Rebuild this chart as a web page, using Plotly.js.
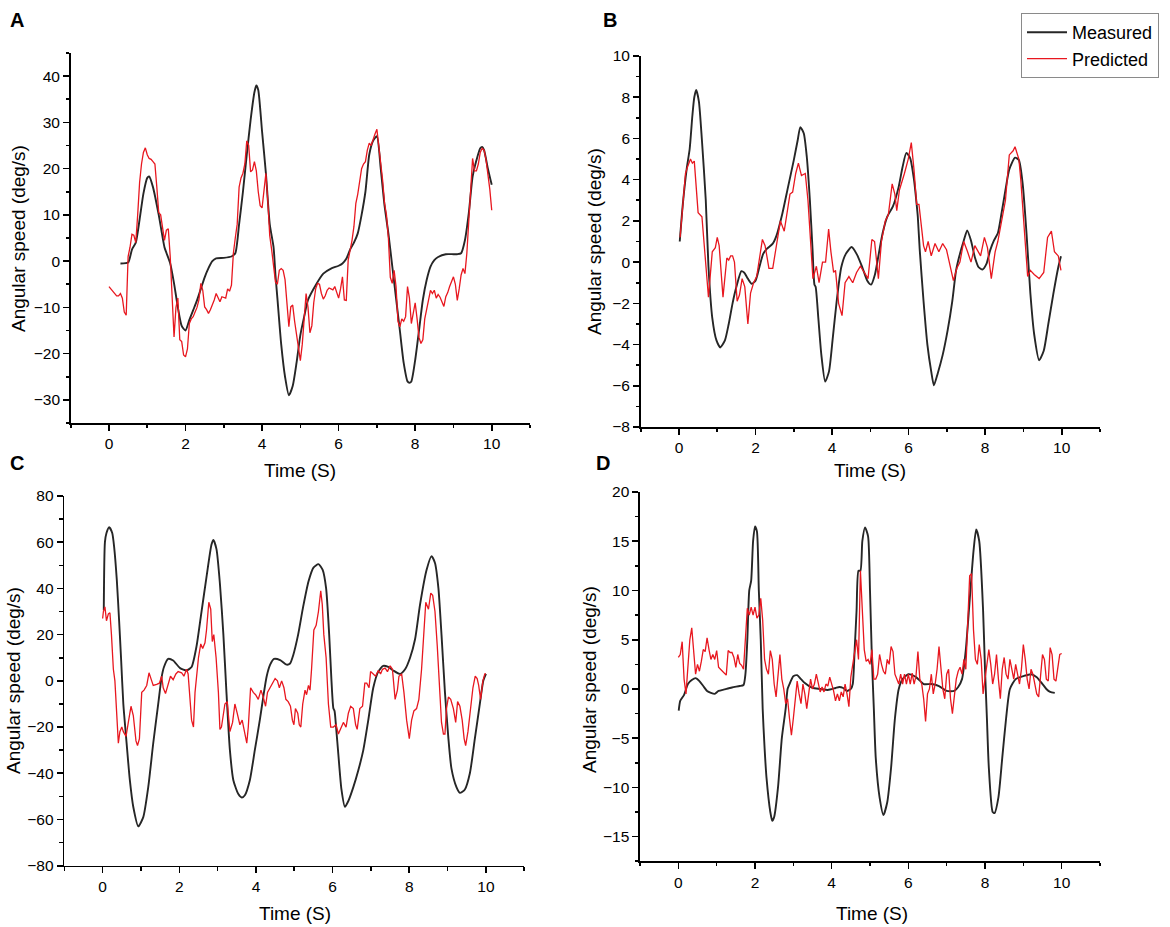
<!DOCTYPE html>
<html>
<head>
<meta charset="utf-8">
<script src="https://cdn.plot.ly/plotly-3.0.1.min.js"></script>
<style>
html,body{margin:0;padding:0;background:#fff;}
#chart{width:1170px;height:927px;}
</style>
</head>
<body>
<div id="chart"></div>
<script>
// ---------------- DATA ----------------
// Predicted series A and D are sampled every 0.05 s starting at 0 s (Plotly x0/dx).
const PRED_T0 = 0;
const PRED_DT = 0.05;

// Panel A
const tMeasA = [0.3,0.5,0.6,0.7,0.8,0.9,1.0,1.05,1.15,1.3,
  1.45,1.5,1.6,1.7,1.8,1.9,2.0,2.1,2.2,2.3,
  2.4,2.5,2.6,2.7,2.8,3.0,3.2,3.3,3.4,3.5,
  3.6,3.7,3.8,3.85,3.9,4.0,4.1,4.2,4.3,4.35,
  4.4,4.5,4.6,4.7,4.8,4.9,5.0,5.1,5.2,5.4,
  5.6,5.8,6.0,6.1,6.2,6.3,6.4,6.5,6.6,6.7,
  6.8,6.9,7.0,7.1,7.2,7.3,7.4,7.5,7.6,7.7,
  7.8,7.85,7.9,8.0,8.1,8.2,8.3,8.4,8.5,8.6,
  8.8,9.0,9.1,9.2,9.3,9.4,9.5,9.6,9.7,9.75,
  9.8,9.9,10.0];
const measA = [-0.5,-0.3,2.5,4,9,14.6,18,18.3,16,10,
  3,1.8,-0.5,-4.8,-10,-14,-15,-12.7,-10.6,-8.5,
  -6,-3.5,-1.5,0,0.6,0.7,1,1.7,8,15,
  23,30.5,36.5,38,37,28,19,8,3,-3,
  -8,-18,-25,-29,-27,-22,-16,-12,-8.4,-5.2,
  -2.7,-1.6,-1,-0.5,0.5,2.5,4,6,10,15,
  23,26,27,20,12,6,-1,-8,-15,-22,
  -26,-26.3,-26,-21.4,-15,-8.4,-4.1,-1.2,0.2,0.9,
  1.5,1.5,1.5,1.7,4.5,10.3,18.2,21.8,24.4,24.7,
  24,20,16.5];
const predA = [
  -5.5,-6,-6.5,-7,-7.5,-7.5,-7,-8,-11,-11.7,1,3,5.8,5.6,4,10,17,21,23.5,24.5,
  23,22.2,22,21.5,21,16,10.5,10,6.7,4.5,6.7,7,1,-8,-16.4,-10,-8,-17,-17.4,-20.3,
  -20.7,-19,-13.5,-12.5,-12,-11,-10,-8.4,-4.8,-6.3,-9.9,-10.5,-11.3,-10.5,-9.5,-8.4,-7,-8,-8.8,-7.7,
  -7.8,-8,-6,-6.5,-5.2,1.7,5,8,16,18,19,21,26,25,19.3,19.7,21.5,19.5,15,12,
  11.5,15,19,13,5.5,2.5,-1,-4.5,-5,-2,-1.6,-2,-4,-9,-14.2,-9.9,-9.5,-13,-16,-19.5,
  -21.5,-18,-12.7,-7,-10,-15.5,-14,-9,-6,-4.8,-5,-7,-8.2,-7.5,-6.3,-5.8,-6,-6.2,-5.5,-7,
  -8,-6,-3.4,-8.4,-8.5,0.2,2,4.5,7.5,12.5,14.5,17.5,20,21,21.5,24,25.5,25,26.5,27.5,
  28.5,25,20.5,17.5,12.5,10,5,-3.5,-4.8,-2,-5.5,-13,-14.2,-12.5,-13,-12,-5.5,-8,-13.5,-11,
  -9,-12.5,-16.5,-17.8,-17,-12.5,-10.5,-8.5,-6.3,-7,-6.3,-8,-7.2,-7.8,-9,-9.8,-7.7,-6.8,-5.5,-4.2,
  -3.4,-5,-8.5,-6,-3,-1.6,-2.7,1.7,8,16.5,22.2,19.5,19.5,21,23.5,24.4,24,22,19,15.5,
  11];

// Panel B
const tMeasB = [0.02,0.1,0.2,0.28,0.35,0.4,0.45,0.52,0.6,0.7,
  0.77,0.87,0.98,1.08,1.2,1.3,1.4,1.5,1.63,1.7,
  1.8,1.9,2.0,2.1,2.2,2.3,2.45,2.55,2.7,2.85,
  3.0,3.1,3.17,3.26,3.34,3.42,3.49,3.54,3.57,3.64,
  3.72,3.82,3.92,4.02,4.12,4.24,4.36,4.51,4.64,4.79,
  4.92,5.02,5.12,5.22,5.32,5.44,5.59,5.74,5.84,5.94,
  6.04,6.14,6.21,6.24,6.29,6.39,6.49,6.59,6.66,6.76,
  6.89,7.02,7.14,7.24,7.34,7.44,7.53,7.63,7.73,7.83,
  7.93,8.03,8.13,8.23,8.33,8.43,8.53,8.63,8.78,8.88,
  8.98,9.08,9.18,9.28,9.41,9.53,9.65,9.78,9.91,9.98];
const measB = [1.0,2.8,4.5,5.5,7.1,8.0,8.35,7.8,5.9,3,
  -0.2,-2.7,-3.8,-4.14,-3.8,-3,-2,-1.2,-0.44,-0.5,
  -0.8,-1.05,-0.9,-0.25,0.4,0.65,0.9,1.3,2.35,3.65,
  4.95,5.9,6.55,6.25,5.1,3,0.6,-1.1,-1.2,-2.7,
  -4.5,-5.8,-5.3,-3.65,-1.9,-0.25,0.4,0.73,0.4,-0.25,
  -0.9,-1.09,-0.6,0.4,1.4,2.2,2.7,3.65,4.6,5.3,
  5.05,4,2.8,2.2,0.6,-1.9,-4,-5.3,-5.98,-5.4,
  -4.5,-3.3,-1.9,-0.4,0.4,1.04,1.54,1.04,0.24,-0.25,
  -0.36,-0.1,0.57,1.05,1.4,2.4,3.5,4.5,5.07,4.95,
  3.8,1.4,-1.5,-3.5,-4.76,-4.3,-3,-1.55,-0.25,0.28];
const tPredB = [0.03,0.1,0.17,0.22,0.3,0.35,0.4,0.5,0.6,0.77,
  0.87,0.95,1.0,1.05,1.15,1.25,1.3,1.35,1.4,1.45,
  1.52,1.58,1.65,1.72,1.8,1.87,1.95,2.03,2.1,2.18,
  2.25,2.35,2.45,2.55,2.65,2.75,2.9,2.97,3.05,3.12,
  3.2,3.3,3.37,3.5,3.59,3.66,3.75,3.83,3.91,3.97,
  4.04,4.09,4.17,4.26,4.34,4.44,4.54,4.64,4.74,4.84,
  4.94,5.04,5.11,5.21,5.29,5.39,5.47,5.57,5.64,5.69,
  5.76,5.89,5.99,6.07,6.14,6.21,6.27,6.39,6.44,6.51,
  6.59,6.69,6.79,6.89,6.99,7.17,7.26,7.34,7.44,7.54,
  7.63,7.73,7.88,7.98,8.06,8.16,8.26,8.33,8.43,8.53,
  8.63,8.73,8.78,8.88,8.93,9.03,9.11,9.18,9.28,9.41,
  9.53,9.63,9.73,9.81,9.91,9.98];
const predB = [1.2,3.0,4.3,4.6,5.0,4.8,4.9,2.4,2.2,-1.7,
  0.5,0.7,1.2,0.8,-1.7,0.2,0.1,0.3,0.3,0,
  -1.9,-1.6,-0.8,-1.2,-3.0,-1.5,-1.0,-0.7,0.2,1.1,
  0.8,-0.3,-0.3,0.8,2.0,1.5,3.3,3.4,4.3,4.8,
  4.2,4.3,3.0,-0.8,-0.2,-1.0,0,0,1.6,0.5,
  -0.5,-0.4,-2.0,-2.6,-1.0,-0.7,-1.0,-0.5,-0.2,-0.5,
  -0.8,1.1,1.0,-0.8,1.0,2.0,2.3,3.8,3.3,2.5,
  3.5,4.3,5.0,5.8,4.5,2.8,2.8,0.8,0.5,1.0,
  0.3,0.9,0.5,0.9,0.6,-0.9,-0.3,0,1.0,0.5,
  0,0.8,0.3,1.2,0.7,-0.8,0.5,1.0,2.0,3.0,
  5.2,5.4,5.6,5.0,4.0,1.5,-0.7,-0.4,-0.6,-0.8,
  -0.5,1.2,1.5,0.5,0.3,-0.4];

// Panel C
const tMeasC = [0.03,0.06,0.1,0.17,0.25,0.3,0.37,0.43,0.48,0.54,
  0.61,0.71,0.8,0.93,1.06,1.19,1.32,1.45,1.54,1.6,
  1.71,1.84,2.02,2.19,2.32,2.45,2.58,2.71,2.84,2.89,
  2.97,3.06,3.15,3.23,3.32,3.41,3.54,3.63,3.71,3.84,
  3.97,4.1,4.19,4.28,4.37,4.47,4.63,4.8,4.89,4.97,
  5.1,5.23,5.37,5.5,5.63,5.74,5.83,5.91,5.97,6.02,
  6.05,6.09,6.15,6.23,6.32,6.41,6.54,6.67,6.8,6.93,
  7.06,7.19,7.32,7.45,7.58,7.76,7.89,8.02,8.15,8.28,
  8.45,8.58,8.67,8.76,8.84,8.93,9.02,9.1,9.23,9.32,
  9.45,9.58,9.71,9.84,9.93,10.0];
const measC = [30.6,60,64,66.5,64,58,43.6,26,10,-10,
  -24,-43,-54.6,-63,-59,-46,-27,-10,1.7,6,
  9.5,8.8,5.5,4.5,6,15,30,45,59,61,
  57,42,20,-5,-30,-43,-49,-50.5,-49.5,-43,
  -30,-17,-7,2,7,9.5,9,7,7.5,11,
  20,32,43,49,50.5,48,40,20,0,-12,
  -13,-20,-32,-47,-54.5,-52,-46,-38.7,-30,-17,
  -3,4,6.5,6,4.5,3,5,10,18,33,
  48,54,51,40,20,-5,-25,-38,-46,-48.5,
  -47,-40,-25,-10,0,3];
const tPredC = [0.0,0.02,0.06,0.1,0.15,0.19,0.23,0.28,0.32,0.37,
  0.41,0.45,0.5,0.54,0.61,0.67,0.74,0.8,0.87,0.91,
  0.96,1.02,1.08,1.15,1.21,1.28,1.32,1.41,1.48,1.54,
  1.58,1.64,1.71,1.77,1.84,1.91,1.97,2.06,2.12,2.19,
  2.23,2.28,2.32,2.37,2.41,2.5,2.56,2.61,2.67,2.71,
  2.77,2.82,2.86,2.9,2.96,3.02,3.06,3.1,3.19,3.25,
  3.32,3.39,3.45,3.51,3.58,3.64,3.7,3.76,3.8,3.86,
  3.93,3.99,4.06,4.13,4.19,4.25,4.3,4.37,4.43,4.5,
  4.56,4.61,4.67,4.73,4.78,4.84,4.9,4.95,4.99,5.03,
  5.09,5.13,5.17,5.22,5.28,5.32,5.37,5.41,5.45,5.51,
  5.57,5.63,5.69,5.73,5.77,5.83,5.89,5.95,6.02,6.09,
  6.15,6.21,6.28,6.35,6.41,6.47,6.54,6.6,6.64,6.71,
  6.78,6.84,6.89,6.95,6.99,7.06,7.12,7.19,7.25,7.3,
  7.37,7.43,7.5,7.56,7.63,7.69,7.73,7.8,7.86,7.93,
  8.0,8.06,8.12,8.19,8.25,8.32,8.38,8.43,8.5,8.56,
  8.61,8.67,8.73,8.78,8.84,8.89,8.93,8.97,9.02,9.08,
  9.15,9.21,9.26,9.32,9.38,9.43,9.47,9.53,9.59,9.66,
  9.72,9.77,9.81,9.86,9.92,9.97,10.0];
const predC = [27,30,32,26,29,29.5,20,5,0,-15,
  -27,-22,-20,-22,-24,-18,-11,-15,-26,-28,
  -25,-5,-4,-2,3.5,0,-2,-1.5,-1,2,
  -3,-5.5,-2,2,0.5,3,4,3.5,2,5,
  3,-8,-17,-20,-5,10,16,14,16.5,22,
  34,31,17,20,10,-5,-21,-20,-10,-9,
  -22,-18,-10,-14,-19,-17,-22,-27,-20,-3,
  -5,-6,-8,-4,-7,-11,-5,-3,-1,1,
  0,-3,0,-3,-8,-9,-11,-17,-19,-12,
  -14,-19,-20,-10,-4,-6,-2,-4,5,22,
  24,30,39,33,20,10,-10,-20,-20,-19,
  -23,-21,-18,-20,-14,-11,-12,-19,-21,-12,
  -11,-1,-1,-3,4,3,2,4.5,3,5,
  5.5,4,6.5,5,-8,-4,2,3,-5,-17,
  -25,-17,-13,-12,-8,5,20,34,31,38,
  37,30,15,0,-18,-23,-23,-12,-7,-8,
  -12,-18,-9,-11,-17,-25,-28,-22,-14,-3,
  2,1,-2,-8,0,3,3];

// Panel D
const tMeasD = [0.01,0.05,0.15,0.25,0.35,0.45,0.55,0.65,0.75,0.85,
  0.95,1.05,1.2,1.4,1.6,1.7,1.75,1.8,1.85,1.9,
  1.95,2.0,2.05,2.1,2.15,2.2,2.25,2.3,2.4,2.45,
  2.5,2.6,2.7,2.8,2.85,2.9,3.0,3.1,3.2,3.3,
  3.5,3.7,3.9,4.1,4.2,4.3,4.4,4.5,4.55,4.6,
  4.65,4.7,4.75,4.8,4.87,4.95,5.0,5.05,5.1,5.15,
  5.25,5.35,5.45,5.55,5.65,5.75,5.85,6.0,6.2,6.4,
  6.6,6.8,7.0,7.2,7.3,7.4,7.5,7.6,7.7,7.77,
  7.85,7.95,8.0,8.05,8.1,8.2,8.25,8.35,8.45,8.55,
  8.65,8.8,9.0,9.2,9.35,9.5,9.6,9.7,9.82];
const measD = [-2.2,-1.2,-0.6,0.5,0.9,1.1,0.8,0.3,-0.2,-0.4,
  -0.5,-0.2,-0.05,0.15,0.3,0.4,1.5,5,10,11,
  15,16.5,16,10,5,-2,-6,-9,-12.5,-13.4,
  -13,-10,-5,-2,0,0.5,1.3,1.4,1,0.6,
  0.1,0,-0.1,0.1,0.2,0.1,-0.2,0,0.5,4,
  8,12,12,15,16.4,15.5,10,3,-2,-7,
  -11,-12.8,-11.5,-8,-3,0,1,1.5,1.2,0.5,
  0.5,0.3,-0.2,-0.2,0.2,1,4,9,14,16.2,
  15,8,2,-3,-8,-12.5,-12.6,-11,-7,-3,
  0,1,1.3,1.5,1.2,0.5,0,-0.3,-0.4];
const predD = [
  3.2,3.5,4.8,1,-0.5,2,5,6.2,3.5,1.5,2.5,1.8,2.8,4,3.8,5.2,4,3,3.5,3.0,
  3.9,2.2,2,1.8,1.5,1.4,3.9,3.7,3.7,3.2,2.2,3.5,2.6,2.4,2.0,5,8.2,7.5,8.3,7.5,
  8.3,7.2,7.5,9.2,7,3,2,1.5,3.9,3,0.5,-0.8,1.5,3.5,1,0,-1.5,-1,-3,-4.7,
  -3,-1,0.8,-0.5,-1.5,0.5,-0.5,-2,-0.5,1,0,0.5,1.5,0.5,-0.3,0.2,-0.3,0.5,0.3,1.2,
  0.5,-0.2,-1.2,-0.5,-1.2,-0.3,-0.8,0.5,-0.5,-1.8,1.2,2.5,3.5,5,3,12,8,4,2.8,3,
  2.5,4,1,1,1.5,3.5,2.5,1.8,1.5,3,2.5,4.3,3.8,1.5,1,0.5,1.5,0.5,1.5,0.5,
  1.5,0.5,1.6,0.5,1.3,3.8,1,0.5,-1,-3.3,-0.5,0,1.5,-0.5,0.5,2,4.3,2,0,-1,
  1.5,2,-1,-2.5,-0.5,1,1.8,2.2,1.5,3,2,6,11.5,11.7,6,3,2.5,4.5,3,-0.5,
  1,2.5,4,2.5,0.5,1.5,3.5,1,-1,2,3.2,1.5,1,3,2,1,2.5,1.5,0.5,2,
  4.5,3,1,0,2,1.5,0.5,-0.5,-0.8,1.5,3.5,3,1,0.8,4.2,3.5,1,0.8,2,3.5,
  3.6];

const seriesNames = ['Measured', 'Predicted'];
const panelLetters = ['A', 'B', 'C', 'D'];
const xTitle = 'Time (S)';
const yTitle = 'Angular speed (deg/s)';

// ---------------- STYLE / LAYOUT ----------------
const W = 1170, H = 927;
const FONT = 'Liberation Sans, Arial, Helvetica, sans-serif';
const MEAS_COLOR = '#262626';
const PRED_COLOR = '#e8171f';

// plot boxes in pixels: [left, right, top, bottom]
const panels = [
  {box:[70.7, 530, 53, 423],    yr:[-35, 45],   ydt:10, ymdt:5,   letter:[17, 20],  ytl:[18, 239], xtl:[300, 470]},
  {box:[640.7, 1100, 56, 427],  yr:[-8, 10],    ydt:2,  ymdt:1,   letter:[610, 20], ytl:[594, 242], xtl:[870, 470]},
  {box:[64.3, 524.3, 496, 865.7], yr:[-80, 80], ydt:20, ymdt:10,  letter:[17, 463], ytl:[13, 681], xtl:[295, 913]},
  {box:[640, 1100, 492, 861.3], yr:[-17.5, 20], ydt:5,  ymdt:2.5, letter:[603, 463], ytl:[589, 680], xtl:[872, 913]}
];

const measured = [
  {x: tMeasA, y: measA}, {x: tMeasB, y: measB}, {x: tMeasC, y: measC}, {x: tMeasD, y: measD}
];
const predicted = [
  {y: predA, x0: PRED_T0, dx: PRED_DT},
  {x: tPredB, y: predB},
  {x: tPredC, y: predC},
  {y: predD, x0: PRED_T0, dx: PRED_DT}
];

const traces = [];
const layout = {
  width: W, height: H,
  margin: {l:0, r:0, t:0, b:0, pad:0},
  paper_bgcolor: '#fff', plot_bgcolor: '#fff',
  font: {family: FONT, color: '#000'},
  showlegend: true,
  legend: {
    x: 1021/W, y: 1 - 13/H, xanchor: 'left', yanchor: 'top',
    bgcolor: '#fff', bordercolor: '#8a8a8a', borderwidth: 1,
    font: {family: FONT, size: 18, color: '#000'},
    itemwidth: 40, tracegroupgap: 0
  },
  annotations: []
};

const axisCommon = {
  showline: true, linecolor: '#000', linewidth: 1.6,
  ticks: 'outside', ticklen: 6, tickwidth: 1.6, tickcolor: '#000',
  showgrid: false, zeroline: false, fixedrange: true,
  tickfont: {family: FONT, size: 15.5, color: '#000'},
  automargin: false
};

panels.forEach((p, i) => {
  const n = i === 0 ? '' : String(i + 1);
  const xa = 'xaxis' + n, ya = 'yaxis' + n;
  const xref = 'x' + n, yref = 'y' + n;
  layout[xa] = Object.assign({}, axisCommon, {
    domain: [p.box[0]/W, p.box[1]/W], range: [-1, 11], anchor: yref,
    tick0: 0, dtick: 2,
    minor: {ticks: 'outside', tick0: 0, dtick: 1, ticklen: 3.5, tickwidth: 1.6, tickcolor: '#000', showgrid: false}
  });
  layout[ya] = Object.assign({}, axisCommon, {
    domain: [1 - p.box[3]/H, 1 - p.box[2]/H], range: p.yr, anchor: xref,
    tick0: 0, dtick: p.ydt,
    minor: {ticks: 'outside', tick0: 0, dtick: p.ymdt, ticklen: 3.5, tickwidth: 1.6, tickcolor: '#000', showgrid: false}
  });

  traces.push(Object.assign({
    type: 'scatter', mode: 'lines', name: seriesNames[0],
    xaxis: xref, yaxis: yref,
    line: {color: MEAS_COLOR, width: 1.9, shape: 'spline', smoothing: 0.6},
    showlegend: i === 1, legendgroup: 'm', hoverinfo: 'skip'
  }, measured[i]));
  traces.push(Object.assign({
    type: 'scatter', mode: 'lines', name: seriesNames[1],
    xaxis: xref, yaxis: yref,
    line: {color: PRED_COLOR, width: 1.3},
    showlegend: i === 1, legendgroup: 'p', hoverinfo: 'skip'
  }, predicted[i]));

  layout.annotations.push({
    text: '<b>' + panelLetters[i] + '</b>', xref: 'paper', yref: 'paper',
    x: p.letter[0]/W, y: 1 - p.letter[1]/H, xanchor: 'center', yanchor: 'middle',
    showarrow: false, font: {family: FONT, size: 20, color: '#000'}
  });
  layout.annotations.push({
    text: yTitle, xref: 'paper', yref: 'paper', textangle: -90,
    x: p.ytl[0]/W, y: 1 - p.ytl[1]/H, xanchor: 'center', yanchor: 'middle',
    showarrow: false, font: {family: FONT, size: 19, color: '#000'}
  });
  layout.annotations.push({
    text: xTitle, xref: 'paper', yref: 'paper',
    x: p.xtl[0]/W, y: 1 - p.xtl[1]/H, xanchor: 'center', yanchor: 'middle',
    showarrow: false, font: {family: FONT, size: 19, color: '#000'}
  });
});

Plotly.newPlot('chart', traces, layout, {staticPlot: true, displayModeBar: false});
</script>
</body>
</html>
